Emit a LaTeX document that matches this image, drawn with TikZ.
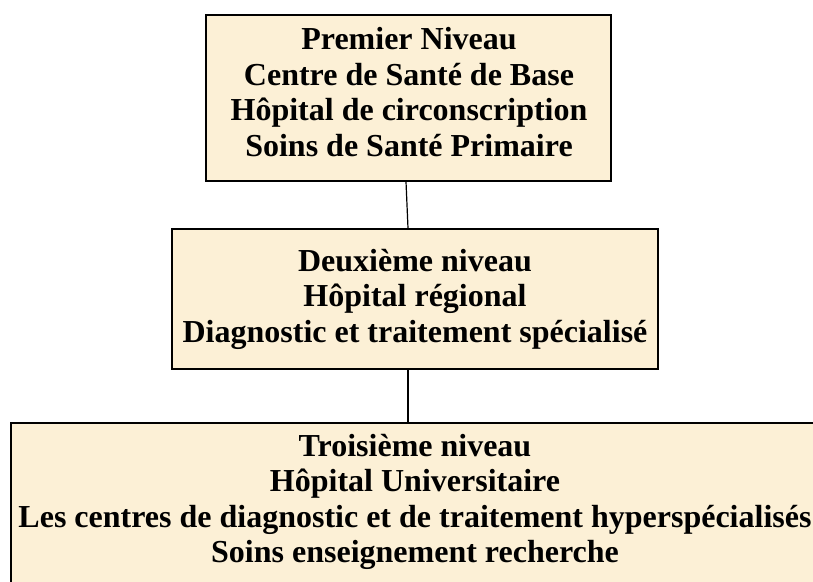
\documentclass[tikz,border=0pt]{standalone}
\usepackage{fontspec}
\setmainfont{Liberation Serif}
\definecolor{parch}{RGB}{252,240,214}
\tikzset{
  lvl/.style={draw=black, line width=1.5pt, fill=parch, inner sep=0pt},
  lbl/.style={align=center, inner sep=0pt, font=\fontsize{32}{35.5}\selectfont\bfseries},
  link/.style={draw=black, line width=1.2pt}
}
\begin{document}
\begin{tikzpicture}[x=1pt,y=-1pt]
\useasboundingbox (0,0) rectangle (813,581);
\clip (0,0) rectangle (813,581);
\node[lvl, minimum width=405pt, minimum height=166pt] (n1) at (408.5,98) {};
\node[lvl, minimum width=486pt, minimum height=140pt] (n2) at (415,299) {};
\node[lvl, minimum width=808pt, minimum height=164pt] (n3) at (415,505) {};
\node[lbl] (t1) at (409,92)
  {Premier Niveau\\Centre de Santé de Base\\Hôpital de circonscription\\Soins de Santé Primaire};
\node[lbl] (t2) at (415,299)
  {Deuxième niveau\\Hôpital régional\\Diagnostic et traitement spécialisé};
\node[lbl] (t3) at (415,502)
  {Troisième niveau\\Hôpital Universitaire\\Les centres de diagnostic et de traitement hyperspécialisés\\Soins enseignement recherche};
\draw[link] (n1.south -| 406,0) -- (n2.north -| 408,0);
\draw[link] (n2.south -| 408,0) -- (n3.north -| 408,0);
\end{tikzpicture}
\end{document}
